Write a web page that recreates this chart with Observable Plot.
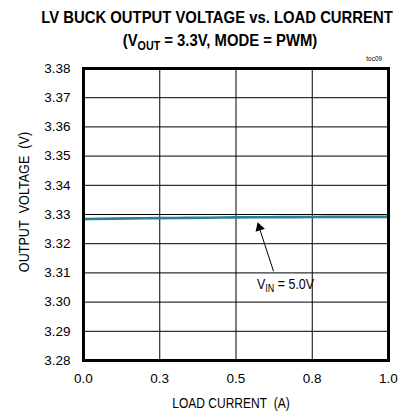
<!DOCTYPE html>
<html><head><meta charset="utf-8">
<script src="https://cdn.jsdelivr.net/npm/d3@7"></script>
<script src="https://cdn.jsdelivr.net/npm/@observablehq/plot@0.6"></script>
<style>
body{margin:0;background:#fff;font-family:"Liberation Sans",Arial,sans-serif;}
#wrap{position:relative;width:402px;height:411px;overflow:hidden;}
.t{position:absolute;white-space:nowrap;color:#000;line-height:1;}
sub{font-size:0.72em;vertical-align:-0.3em;line-height:0;}
</style></head>
<body><div id="wrap"></div>
<script>
// data
const loadCurrent = [0, 0.1, 0.2, 0.3, 0.4, 0.5, 0.6, 0.7, 0.8, 0.9, 1.0];
const outputVoltage = [3.3284, 3.3286, 3.3287, 3.3288, 3.3289, 3.3290, 3.3291, 3.3291, 3.3292, 3.3292, 3.3292];
const xTicks = [0, 0.25, 0.5, 0.75, 1.0];
const xTickLabels = ["0.0", "0.3", "0.5", "0.8", "1.0"];
const yTicks = [3.28, 3.29, 3.30, 3.31, 3.32, 3.33, 3.34, 3.35, 3.36, 3.37, 3.38];
const title1 = "LV BUCK OUTPUT VOLTAGE vs. LOAD CURRENT";
const seriesLabel = "5.0V";
// annotation arrow (data units): tail and head
const arrowTail = [{x: 0.623, y: 3.3106}];
const arrowShaftEnd = [{x: 0.574, y: 3.3262}];
const arrowHead = [{x: 0.5765, y: 3.32548}];

const data = loadCurrent.map((x, i) => ({x, y: outputVoltage[i]}));

const chart = Plot.plot({
  width: 402, height: 411,
  marginLeft: 83, marginRight: 14, marginTop: 68, marginBottom: 51,
  style: {fontFamily: '"Liberation Sans", Arial, sans-serif', fontSize: "13.5px", color: "#000", background: "#fff"},
  x: {domain: [0, 1], label: null},
  y: {domain: [3.28, 3.38], label: null},
  marks: [
    Plot.gridX(xTicks, {stroke: "#000", strokeOpacity: 1, strokeWidth: 1}),
    Plot.gridY(yTicks, {stroke: "#000", strokeOpacity: 1, strokeWidth: 1}),
    Plot.line(data, {x: "x", y: "y", stroke: "#2a8098", strokeWidth: 2.6, curve: "basis"}),
    Plot.link([{x1: arrowTail[0].x, y1: arrowTail[0].y, x2: arrowShaftEnd[0].x, y2: arrowShaftEnd[0].y}], {x1: "x1", y1: "y1", x2: "x2", y2: "y2", stroke: "#000", strokeWidth: 1}),
    Plot.dot(arrowHead, {x: "x", y: "y", symbol: "triangle", r: 3.6, fill: "#000", stroke: "none", rotate: -18}),
    Plot.axisX({ticks: xTicks, tickFormat: (d) => xTickLabels[xTicks.indexOf(d)], tickSize: 0, tickPadding: 13, label: null, fontSize: 13.5}),
    Plot.axisY({ticks: yTicks, tickFormat: d3.format(".2f"), tickSize: 0, tickPadding: 13, label: null, fontSize: 13.5}),
    Plot.frame({stroke: "#000", strokeWidth: 3})
  ]
});
const wrap = document.getElementById("wrap");
chart.style.position = "absolute";
chart.style.left = "0"; chart.style.top = "0";
wrap.appendChild(chart);

function addText(html, left, top, css) {
  const d = document.createElement("div");
  d.className = "t";
  d.innerHTML = html;
  Object.assign(d.style, {left: left + "px", top: top + "px"}, css || {});
  wrap.appendChild(d);
  return d;
}
// titles
addText(title1, 217, 9.2, {fontWeight: "bold", fontSize: "16.5px", transform: "translateX(-50%) scaleX(0.9)"});
addText("(V<sub>OUT</sub> = 3.3V, MODE = PWM)", 220, 31.7, {fontWeight: "bold", fontSize: "16.5px", transform: "translateX(-50%) scaleX(0.9)"});
addText("toc09", 382, 54.5, {fontSize: "8px", transform: "translateX(-100%) scaleX(0.8)", transformOrigin: "100% 0"});
addText("V<sub>IN</sub> = " + seriesLabel, 257, 276, {fontSize: "15px", transform: "scaleX(0.83)", transformOrigin: "0 0"});
addText("LOAD CURRENT&nbsp; (A)", 231, 395, {fontSize: "15px", transform: "translateX(-50%) scaleX(0.8)"});
addText("OUTPUT&nbsp; VOLTAGE&nbsp; (V)", 23, 202, {fontSize: "15px", transform: "translate(-50%,-50%) rotate(-90deg) scaleX(0.84)"});
</script>
</body></html>
